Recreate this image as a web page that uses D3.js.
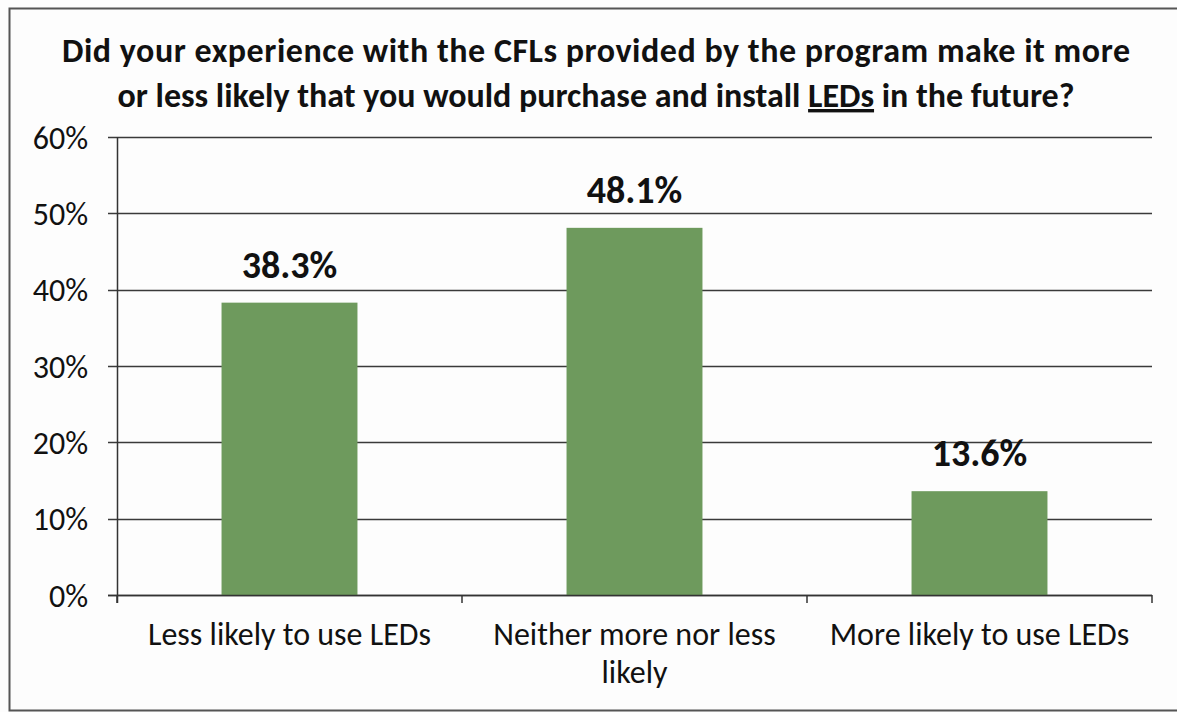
<!DOCTYPE html>
<html>
<head>
<meta charset="utf-8">
<script src="https://cdn.jsdelivr.net/npm/d3@7"></script>
<style>
  html, body { margin: 0; padding: 0; background: #fdfdfd; overflow: hidden; }
  svg { display: block; }
  text { font-family: Carlito, Lato, "Open Sans", sans-serif; fill: #111; }
</style>
</head>
<body>
<svg id="chart" width="1177" height="712"></svg>
<script>
// Survey responses
const categories = ["Less likely to use LEDs", "Neither more nor less likely", "More likely to use LEDs"];
const categoryLines = [["Less likely to use LEDs"], ["Neither more nor less", "likely"], ["More likely to use LEDs"]];
const values = [38.3, 48.1, 13.6];
const yTicks = [0, 10, 20, 30, 40, 50, 60];
const titleLines = [
  "Did your experience with the CFLs provided by the program make it more",
  ["or less likely that you would purchase and install ", "LEDs", " in the future?"]
];

const svg = d3.select("#chart");
const W = 1177, H = 712;
const plot = { left: 117, right: 1152, top: 137, bottom: 595 };

// frame: top, left and bottom edges
const frame = svg.append("g").attr("stroke", "#555").attr("stroke-width", 2).attr("fill", "none");
frame.append("path").attr("d", `M${W},8.5 H9.5 V${H - 1.5} H${W}`);

const x = d3.scaleBand().domain(categories).range([plot.left, plot.right]).paddingInner(0).paddingOuter(0);
const y = d3.scaleLinear().domain([0, 60]).range([plot.bottom, plot.top]);
const barW = x.bandwidth() * 0.394;

// gridlines
svg.append("g").selectAll("line").data(yTicks).join("line")
  .attr("x1", plot.left - 9).attr("x2", plot.right)
  .attr("y1", d => Math.round(y(d)) + 0.5).attr("y2", d => Math.round(y(d)) + 0.5)
  .attr("stroke", "#3a3a3a").attr("stroke-width", 1.3);

// y axis labels
const yAxis = d3.axisLeft(y).tickValues(yTicks).tickFormat(d => d + "%").tickSize(0).tickPadding(0);
const gy = svg.append("g").attr("transform", `translate(${plot.left},0)`).call(yAxis);
gy.select(".domain").remove();
gy.selectAll("text").attr("x", -29).attr("font-size", 32).attr("dy", "0.35em")
  .style("font-family", "Carlito, Lato, sans-serif").attr("fill", "#111");

// y axis line
svg.append("line").attr("x1", plot.left + 0.5).attr("x2", plot.left + 0.5)
  .attr("y1", plot.top).attr("y2", plot.bottom + 8).attr("stroke", "#333").attr("stroke-width", 1.5);

// category boundary ticks
const bounds = categories.map(c => x(c)).concat([plot.right]);
svg.append("g").selectAll("line").data(bounds).join("line")
  .attr("x1", d => d).attr("x2", d => d)
  .attr("y1", plot.bottom).attr("y2", plot.bottom + 8)
  .attr("stroke", "#333").attr("stroke-width", 1.5);

// bars
svg.append("g").selectAll("rect").data(values).join("rect")
  .attr("x", (d, i) => x(categories[i]) + x.bandwidth() / 2 - barW / 2)
  .attr("y", d => y(d))
  .attr("width", barW)
  .attr("height", d => y(0) - y(d))
  .attr("fill", "#6e9a5d");

// x axis baseline over bars
svg.append("line").attr("x1", plot.left - 9).attr("x2", plot.right)
  .attr("y1", plot.bottom + 0.5).attr("y2", plot.bottom + 0.5).attr("stroke", "#333").attr("stroke-width", 1.5);

// value labels
svg.append("g").selectAll("text").data(values).join("text")
  .attr("x", (d, i) => x(categories[i]) + x.bandwidth() / 2)
  .attr("y", d => y(d) - 25)
  .attr("text-anchor", "middle").attr("font-weight", "bold").attr("font-size", 38)
  .text(d => d.toFixed(1) + "%");

// category labels
const cat = svg.append("g").selectAll("text").data(categoryLines).join("text")
  .attr("text-anchor", "middle").attr("font-size", 32)
  .attr("x", (d, i) => x(categories[i]) + x.bandwidth() / 2)
  .attr("y", 645);
cat.selectAll("tspan").data(d => d).join("tspan")
  .attr("x", function () { return d3.select(this.parentNode).attr("x"); })
  .attr("dy", (d, i) => i === 0 ? 0 : 38)
  .text(d => d);

// title
svg.append("text").attr("x", 596).attr("y", 62).attr("text-anchor", "middle")
  .attr("font-weight", "bold").attr("font-size", 34)
  .attr("textLength", 1068).attr("lengthAdjust", "spacing").text(titleLines[0]);
const t2 = svg.append("text").attr("x", 596).attr("y", 107).attr("text-anchor", "middle")
  .attr("font-weight", "bold").attr("font-size", 34);
titleLines[1].forEach((s, i) => {
  t2.append("tspan").attr("text-decoration", i === 1 ? "underline" : null).text(s);
});
</script>
</body>
</html>
